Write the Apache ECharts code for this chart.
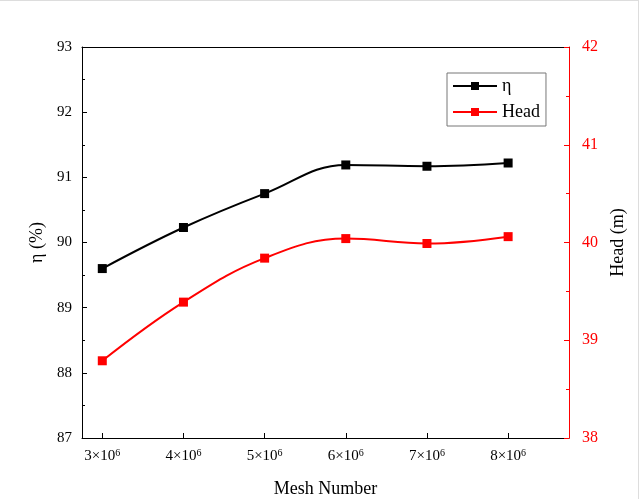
<!DOCTYPE html>
<html><head><meta charset="utf-8">
<script src="https://cdn.jsdelivr.net/npm/echarts@6/dist/echarts.min.js"></script>
<style>html,body{margin:0;padding:0;background:#fff}#c{width:639px;height:499px;box-sizing:border-box;border-top:1px solid #ddd;border-right:1px solid #ddd}</style>
</head><body><div id="c"></div>
<script>
const meshNumbers = [3, 4, 5, 6, 7, 8];           // ×10^6
const etaValues = [89.60, 90.23, 90.75, 91.19, 91.17, 91.22];
const headValues = [38.79, 39.39, 39.84, 40.04, 39.99, 40.06];
const leftTicks = [87, 88, 89, 90, 91, 92, 93];
const rightTicks = [38, 39, 40, 41, 42];

const chart = echarts.init(document.getElementById('c'));
const serif = 'Liberation Serif, Times New Roman, serif';
chart.setOption({
  animation: false,
  grid: {left: 82, right: 69, top: 46, bottom: 61, containLabel: false, outerBoundsMode: 'none'},
  legend: {
    orient: 'vertical', left: 447, top: 72, itemWidth: 44, itemHeight: 10, itemGap: 8,
    borderColor: '#777', borderWidth: 1, padding: [4, 6, 5, 5],
    textStyle: {fontFamily: serif, fontSize: 18, color: '#000'},
    data: ['η', 'Head']
  },
  xAxis: [{
    type: 'value', min: 2.75, max: 8.75, position: 'bottom',
    name: 'Mesh Number', nameLocation: 'middle', nameGap: 42,
    nameTextStyle: {fontFamily: serif, fontSize: 18, color: '#000'},
    axisLine: {lineStyle: {color: '#000', width: 1}},
    axisTick: {inside: true, length: 5, customValues: meshNumbers, lineStyle: {color: '#000'}},
    splitLine: {show: false},
    axisLabel: {
      customValues: meshNumbers, margin: 10,
      formatter: v => '{a|' + v + '×10}{s|6}',
      rich: {a: {fontFamily: serif, fontSize: 15, color: '#000'}, s: {fontFamily: serif, fontSize: 10, color: '#000', verticalAlign: 'top', padding: [0, 0, 7, 0]}}
    }
  }, {
    type: 'value', min: 2.75, max: 8.75, position: 'top',
    axisLine: {show: true, lineStyle: {color: '#000', width: 1}},
    axisTick: {show: false}, axisLabel: {show: false}, splitLine: {show: false}
  }],
  yAxis: [{
    type: 'value', min: 87, max: 93, interval: 1, position: 'left',
    name: 'η (%)', nameLocation: 'middle', nameGap: 34,
    nameTextStyle: {fontFamily: serif, fontSize: 18, color: '#000'},
    axisLine: {show: true, lineStyle: {color: '#000'}},
    axisTick: {show: true, inside: true, length: 5, lineStyle: {color: '#000'}},
    minorTick: {show: true, splitNumber: 2, length: 3, lineStyle: {color: '#000'}},
    splitLine: {show: false},
    axisLabel: {fontFamily: serif, fontSize: 15, color: '#000', margin: 10}
  }, {
    type: 'value', min: 38, max: 42, interval: 1, position: 'right',
    name: 'Head (m)', nameLocation: 'middle', nameGap: 36, nameRotate: 90,
    nameTextStyle: {fontFamily: serif, fontSize: 18, color: '#000'},
    axisLine: {show: true, lineStyle: {color: '#f00'}},
    axisTick: {show: true, inside: true, length: 5, lineStyle: {color: '#f00'}},
    minorTick: {show: true, splitNumber: 2, length: 3, lineStyle: {color: '#f00'}},
    splitLine: {show: false},
    axisLabel: {fontFamily: serif, fontSize: 16, color: '#f00', margin: 13}
  }],
  series: [{
    name: 'η', type: 'line', yAxisIndex: 0, smooth: 0.4,
    data: meshNumbers.map((m, i) => [m, etaValues[i]]),
    symbol: 'rect', symbolSize: 9,
    lineStyle: {color: '#000', width: 2}, itemStyle: {color: '#000'}
  }, {
    name: 'Head', type: 'line', yAxisIndex: 1, smooth: 0.4,
    data: meshNumbers.map((m, i) => [m, headValues[i]]),
    symbol: 'rect', symbolSize: 9,
    lineStyle: {color: '#f00', width: 2}, itemStyle: {color: '#f00'}
  }]
});
</script></body></html>
